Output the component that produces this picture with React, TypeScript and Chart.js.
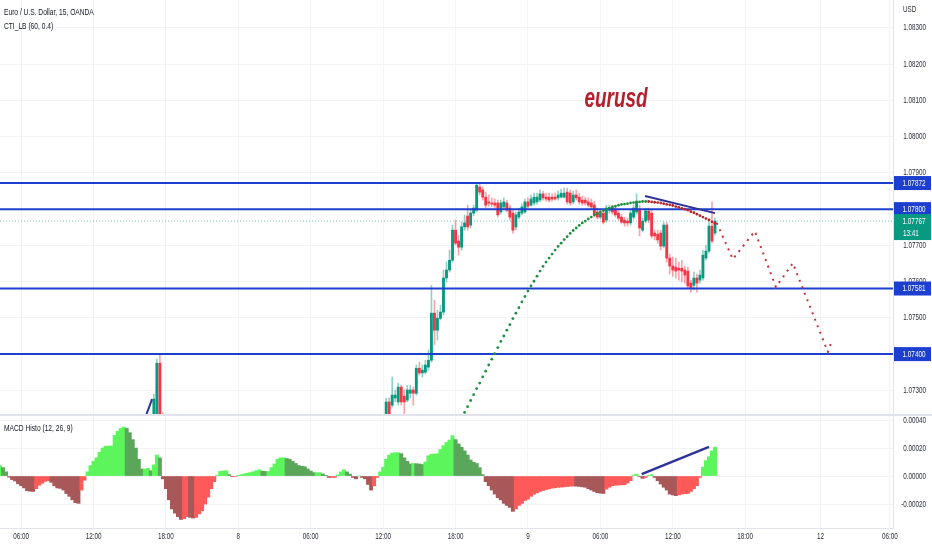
import React, { useEffect, useRef } from 'react';
import { Chart, registerables } from 'chart.js';

Chart.register(...registerables);

const FONT = "'Liberation Sans', Arial, sans-serif";
const SX = 0.7; // horizontal squeeze of the reference's lettering

// ---- axes ----
const X_MIN = -7;
const X_MAX = 289;
const TIME_TICKS = [0, 24, 48, 72, 96, 120, 144, 168, 192, 216, 240, 265, 288];
const TIME_LABELS = ['06:00', '12:00', '18:00', '8', '06:00', '12:00', '18:00', '9', '06:00', '12:00', '18:00', '12', '06:00'];
const PRICE_MIN = 1.07232;
const PRICE_MAX = 1.08377;
const PRICE_TICKS = [1.073, 1.074, 1.075, 1.076, 1.077, 1.078, 1.079, 1.08, 1.081, 1.082, 1.083];
const MACD_MIN = -0.000371;
const MACD_MAX = 0.000436;
const MACD_TICKS = [-0.0002, 0, 0.0002, 0.0004];

// ---- horizontal levels ----
const LEVELS = [1.07872, 1.078, 1.07581, 1.074];
const LAST_PRICE = 1.07767;
const LAST_COUNTDOWN = '13:41';

// ---- candles [open, high, low, close] ----
const EARLY_START = 44;
const EARLY_CANDLES = [
  [1.0718, 1.0729, 1.0716, 1.07276],
  [1.0722, 1.07386, 1.0721, 1.07375],
  [1.07375, 1.07397, 1.0717, 1.0722],
  [1.0723, 1.07238, 1.0719, 1.0721],
];
const CANDLE_START = 121;
const CANDLES = [
  [1.07229, 1.07279, 1.07223, 1.07268],
  [1.07268, 1.07279, 1.07229, 1.07234],
  [1.07259, 1.07337, 1.07254, 1.07287],
  [1.07279, 1.07301, 1.07268, 1.07287],
  [1.07268, 1.0732, 1.07259, 1.07309],
  [1.07309, 1.07314, 1.07259, 1.07268],
  [1.07284, 1.07301, 1.07232, 1.07268],
  [1.07273, 1.07314, 1.07268, 1.07301],
  [1.07292, 1.07314, 1.07279, 1.07301],
  [1.07301, 1.07309, 1.07259, 1.07292],
  [1.07292, 1.0737, 1.07287, 1.07361],
  [1.07361, 1.07378, 1.07342, 1.07348],
  [1.07348, 1.0737, 1.07337, 1.07356],
  [1.0735, 1.07383, 1.07345, 1.0737],
  [1.07364, 1.07411, 1.07356, 1.07383],
  [1.07383, 1.0759, 1.07378, 1.07513],
  [1.07513, 1.07549, 1.07425, 1.07466],
  [1.07466, 1.07521, 1.07439, 1.07499],
  [1.07499, 1.07535, 1.07494, 1.07516],
  [1.07516, 1.07632, 1.07508, 1.0761],
  [1.0761, 1.07654, 1.07599, 1.07632],
  [1.07632, 1.07687, 1.07626, 1.07659],
  [1.07659, 1.07756, 1.07654, 1.07742],
  [1.07742, 1.0777, 1.07701, 1.07706],
  [1.07712, 1.07728, 1.07673, 1.07695],
  [1.07695, 1.07764, 1.07687, 1.07751],
  [1.07751, 1.07784, 1.07742, 1.07762],
  [1.07781, 1.07811, 1.07742, 1.07751],
  [1.07756, 1.07797, 1.07748, 1.07789],
  [1.07789, 1.07811, 1.07781, 1.07803],
  [1.07797, 1.07872, 1.07792, 1.07866],
  [1.07861, 1.07869, 1.07839, 1.07847],
  [1.07853, 1.07861, 1.07825, 1.07833],
  [1.07833, 1.07847, 1.07803, 1.07811],
  [1.0782, 1.07839, 1.07808, 1.07817],
  [1.07817, 1.07831, 1.07806, 1.07814],
  [1.07817, 1.07828, 1.07803, 1.07811],
  [1.07817, 1.07825, 1.07778, 1.07784],
  [1.07792, 1.07825, 1.07786, 1.07817],
  [1.07806, 1.07831, 1.078, 1.0782],
  [1.07817, 1.07825, 1.07792, 1.07797],
  [1.07803, 1.07811, 1.0777, 1.07778],
  [1.07789, 1.07797, 1.07734, 1.07742],
  [1.07751, 1.07792, 1.07742, 1.07784],
  [1.07778, 1.07803, 1.07773, 1.07792],
  [1.07789, 1.07814, 1.07784, 1.07806],
  [1.07792, 1.07828, 1.07789, 1.0782],
  [1.0782, 1.07831, 1.07803, 1.07808],
  [1.07811, 1.07839, 1.07808, 1.07828],
  [1.07817, 1.07844, 1.07811, 1.07833],
  [1.0782, 1.07844, 1.07814, 1.07833],
  [1.07825, 1.07853, 1.0782, 1.07842],
  [1.07842, 1.0785, 1.07825, 1.07831],
  [1.07833, 1.07844, 1.07822, 1.07828],
  [1.07833, 1.07844, 1.0782, 1.07825],
  [1.07833, 1.07842, 1.07822, 1.07828],
  [1.07833, 1.07844, 1.07825, 1.07828],
  [1.07831, 1.0785, 1.07825, 1.07839],
  [1.07833, 1.07855, 1.07831, 1.07844],
  [1.07833, 1.07858, 1.07831, 1.07844],
  [1.07847, 1.07858, 1.07814, 1.0782],
  [1.07844, 1.07853, 1.07811, 1.07817],
  [1.0782, 1.0785, 1.07814, 1.07839],
  [1.07839, 1.07853, 1.07825, 1.07831],
  [1.07833, 1.07844, 1.07814, 1.0782],
  [1.07825, 1.07836, 1.07811, 1.07817],
  [1.07825, 1.07833, 1.07811, 1.07817],
  [1.0782, 1.07831, 1.07806, 1.07811],
  [1.07817, 1.07828, 1.078, 1.07806],
  [1.07811, 1.07822, 1.07778, 1.07784],
  [1.07792, 1.07803, 1.07773, 1.07778],
  [1.07778, 1.07797, 1.07773, 1.07789],
  [1.07789, 1.07797, 1.07759, 1.07764],
  [1.0777, 1.07811, 1.07764, 1.07803],
  [1.07797, 1.07811, 1.07789, 1.07803],
  [1.07803, 1.07811, 1.07786, 1.07792],
  [1.07797, 1.07806, 1.07778, 1.07784],
  [1.07789, 1.07797, 1.0777, 1.07775],
  [1.07778, 1.07786, 1.07759, 1.07764],
  [1.0777, 1.07778, 1.07753, 1.07762],
  [1.07767, 1.07775, 1.07753, 1.07762],
  [1.07762, 1.07797, 1.07756, 1.07789],
  [1.07778, 1.07811, 1.07773, 1.07803],
  [1.07792, 1.07842, 1.07786, 1.0782],
  [1.07797, 1.07811, 1.07726, 1.07748],
  [1.07742, 1.07775, 1.07737, 1.07767],
  [1.07767, 1.07803, 1.07762, 1.07795],
  [1.07795, 1.07803, 1.07762, 1.0777],
  [1.07789, 1.07797, 1.0772, 1.07726],
  [1.07734, 1.07742, 1.07715, 1.07726],
  [1.07731, 1.07742, 1.07706, 1.07715],
  [1.07734, 1.07742, 1.07687, 1.07698],
  [1.07698, 1.07764, 1.07693, 1.07756],
  [1.07756, 1.07764, 1.07654, 1.07665],
  [1.07665, 1.07676, 1.07621, 1.07643],
  [1.07643, 1.07668, 1.07615, 1.07632],
  [1.0764, 1.07665, 1.0761, 1.07629],
  [1.07637, 1.07654, 1.07604, 1.07632],
  [1.07637, 1.07659, 1.07599, 1.07629],
  [1.07632, 1.07643, 1.07596, 1.07618],
  [1.07629, 1.0764, 1.07582, 1.07588],
  [1.07596, 1.07604, 1.07571, 1.07582],
  [1.0759, 1.07626, 1.07577, 1.0761],
  [1.0761, 1.07621, 1.07571, 1.07596],
  [1.07604, 1.07632, 1.07596, 1.07618],
  [1.0761, 1.07687, 1.07604, 1.07673],
  [1.07665, 1.07701, 1.07659, 1.07684],
  [1.07684, 1.07764, 1.07679, 1.07753],
  [1.07753, 1.0782, 1.07706, 1.07712],
  [1.07734, 1.07775, 1.07728, 1.07767],
];

// ---- MACD histogram (units of 0.00001) ----
const MACD_START = -7;
const MACD_HIST = [
  7.4, 6, 3, -0.8, -2.5, -3.5, -5.5,
  -6.9, -8.5, -10.5, -10.8, -11, -9, -6.5, -5.2, -3.8, -3.3,
  -4.5, -7, -8.5, -8.8, -10, -12.5, -14.5, -17, -19, -19.5,
  -10, -3, 3, 7.4, 10.5, 13, 17, 20, 21.2, 21.4,
  21.5, 29, 32, 34, 35, 34, 31, 26, 20, 12,
  5, 5, 5.5, 3.8, 8, 15, 13, -2, -9, -17,
  -23.5, -26.5, -29, -31, -30.5, -29, -29.5, -30, -29.5, -27,
  -24.8, -20, -15, -9, -4, 0.5, 3.3, 3.6, 3.8, 1,
  -0.5, -0.3, 0.5, 1, 1.5, 2, 2.5, 3.1, 3.8, 4.5,
  3.5, 3.3, 3.3, 6, 8.6, 12, 13, 13, 12.5, 12,
  10.5, 9, 7.5, 7, 6.7, 5, 3.5, 2.4, 2.4, 2.4,
  1.5, 0.5, -1, -1, -1, 0.8, 3, 4.5, 3, 1.4,
  -1, -2, 0, -1, -2, -6, -10, -7, -1, 3,
  6.2, 12, 15, 16.4, 16.7, 16.7, 16, 13, 10.5, 8.6,
  9, 8.8, 8.6, 8.2, 10, 14.5, 15.5, 15.7, 16, 19,
  21.7, 24, 25.7, 28.8, 26, 23, 20.5, 18, 15, 11.5,
  9.8, 9, 6, 1, -4, -6.9, -10, -12.9, -15.5, -17,
  -19.5, -21, -22.4, -25.2, -23.5, -21, -19.5, -17.5, -16.5, -14.5,
  -13, -12, -11, -10.3, -9.6, -9.2, -8.6, -8.4, -8, -7.9,
  -7.7, -7.5, -7.2, -7.1, -7.2, -7.4, -7.7, -8, -9, -10,
  -11, -11.9, -12.2, -12.4, -9.3, -8, -6.9, -6.6, -6.4, -6.3,
  -6.2, -5, -3.3, 0.7, 1.4, -0.5, -1.7, -1, 0.5, 1,
  -1, -3.3, -5.7, -8, -10, -12.9, -13.5, -14, -13.5, -12.9,
  -12.6, -12.4, -11, -9, -6.9, -1, 6.2, 11, 13.8, 18, 20.5,
];
const MACD_UNIT = 0.00001;

// ---- CTI_LB dots ----
const CTI_UP_START = 145;
const CTI_UP = [
  1.07207, 1.07223,
  1.07239, 1.07255, 1.07272, 1.07288, 1.07305, 1.0732, 1.07337, 1.07353, 1.0737, 1.07386,
  1.07401, 1.07418, 1.07435, 1.0745, 1.07466, 1.07481, 1.07498, 1.07513, 1.07528, 1.07544,
  1.07559, 1.07574, 1.07588, 1.07601, 1.07615, 1.07629, 1.07642, 1.07654, 1.07665, 1.07676,
  1.07687, 1.07697, 1.07706, 1.07716, 1.07724, 1.07733, 1.07741, 1.07748, 1.07755, 1.07762,
  1.07767, 1.07773, 1.07778, 1.07784, 1.07788, 1.07792, 1.07796, 1.078, 1.07803, 1.07806,
  1.07808, 1.07811, 1.07813, 1.07814, 1.07815, 1.07817, 1.07818, 1.0782, 1.0782, 1.07821,
  1.07821,
];
const CTI_DOWN_START = 208;
const CTI_DOWN = [
  1.07821, 1.0782, 1.07819, 1.07818, 1.07817, 1.07815, 1.07813, 1.07812, 1.0781, 1.07807,
  1.07805, 1.07802, 1.078, 1.07797, 1.07793, 1.0779, 1.07786, 1.07782, 1.07778, 1.07774,
  1.0777, 1.07765, 1.07761,
];

// ---- drawings ----
const PROJ_X = [230.6, 235.9, 243.2, 250.2, 255.8, 267.4, 268.7];
const PROJ_Y = [1.07762, 1.07662, 1.07739, 1.07585, 1.07651, 1.07406, 1.07436];
const TREND_X = [206.8, 230];
const TREND_Y = [1.07836, 1.07789];
const SMALL_TREND_X = [40.5, 43.4];
const SMALL_TREND_Y = [1.0721, 1.07276];
const MACD_TREND_X = [205.7, 228];
const MACD_TREND_Y = [1.4, 20.9];

// ---- colours ----
const UP = '#089981';
const DOWN = '#f23645';
const UP_WICK = 'rgba(8,153,129,0.45)';
const DOWN_WICK = 'rgba(242,54,69,0.45)';
const LEVEL = '#1c3fcf';
const GRID = '#f1f3f7';
const AXIS_TEXT = '#2a2e39';

function squeezedText(
  ctx: CanvasRenderingContext2D,
  s: string,
  x: number,
  y: number,
  align: 'left' | 'center' | 'right',
  font: string,
  color: string,
  sx = SX,
) {
  ctx.save();
  ctx.font = font;
  ctx.fillStyle = color;
  ctx.textAlign = 'left';
  ctx.textBaseline = 'middle';
  const w = ctx.measureText(s).width * sx;
  let x0 = x;
  if (align === 'center') x0 = x - w / 2;
  else if (align === 'right') x0 = x - w;
  ctx.translate(x0, y);
  ctx.scale(sx, 1);
  ctx.fillText(s, 0, 0);
  ctx.restore();
}

const zeroPad = (s: any) => {
  s.paddingLeft = 0;
  s.paddingRight = 0;
  s.paddingTop = 0;
  s.paddingBottom = 0;
};

export default function App() {
  const ref = useRef<HTMLCanvasElement>(null);

  useEffect(() => {
    document.body.style.margin = '0';
    const canvas = ref.current;
    if (!canvas) return;

    const allCandles = [
      ...EARLY_CANDLES.map((c, k) => ({ i: EARLY_START + k, c })),
      ...CANDLES.map((c, k) => ({ i: CANDLE_START + k, c })),
    ];
    const wickData = allCandles.map(({ i, c }) => ({ x: i, y: [c[2], c[1]] }));
    const bodyData = allCandles.map(({ i, c }) => ({ x: i, y: [Math.min(c[0], c[3]), Math.max(c[0], c[3])] }));
    const isUp = allCandles.map(({ c }) => c[3] >= c[0]);

    const macdData = MACD_HIST.map((v, k) => ({ x: MACD_START + k, y: v * MACD_UNIT }));
    const macdColors = MACD_HIST.map((v, k) => {
      const prev = k > 0 ? MACD_HIST[k - 1] : v;
      const rising = v >= prev;
      if (v >= 0) return rising ? '#5cf55c' : '#5aa65a';
      return rising ? '#ff5a5a' : '#a85858';
    });

    const seg = (xs: number[], ys: number[], mul = 1) => xs.map((x, k) => ({ x, y: ys[k] * mul }));

    const paneClip = {
      id: 'paneClip',
      beforeDatasetDraw(chart: any, args: any) {
        const ys = chart.scales[args.meta.yAxisID];
        const a = chart.chartArea;
        const ctx = chart.ctx;
        ctx.save();
        ctx.beginPath();
        ctx.rect(a.left, ys.top, a.right - a.left, ys.bottom - ys.top);
        ctx.clip();
      },
      afterDatasetDraw(chart: any) {
        chart.ctx.restore();
      },
    };

    const overlay = {
      id: 'overlay',
      afterDraw(chart: any) {
        const ctx = chart.ctx;
        const xS = chart.scales.x;
        const yS = chart.scales.y;
        const y2S = chart.scales.y2;
        const a = chart.chartArea;
        const axisFont = `9px ${FONT}`;

        // pane separator
        ctx.save();
        ctx.fillStyle = '#e0e3eb';
        ctx.fillRect(0, yS.bottom - 1, 932, 2);
        ctx.restore();

        // axis labels
        PRICE_TICKS.forEach((v) => {
          squeezedText(ctx, v.toFixed(5), 926, yS.getPixelForValue(v), 'right', axisFont, AXIS_TEXT);
        });
        MACD_TICKS.forEach((v) => {
          squeezedText(ctx, v.toFixed(5), 926, y2S.getPixelForValue(v), 'right', axisFont, AXIS_TEXT);
        });
        TIME_TICKS.forEach((v, k) => {
          squeezedText(ctx, TIME_LABELS[k], xS.getPixelForValue(v), a.bottom + 9, 'center', axisFont, AXIS_TEXT);
        });
        squeezedText(ctx, 'USD', 903, 10, 'left', axisFont, AXIS_TEXT);

        // level labels
        LEVELS.forEach((lv) => {
          const py = yS.getPixelForValue(lv);
          ctx.fillStyle = LEVEL;
          ctx.fillRect(a.right + 1, py - 7, 37, 14);
          squeezedText(ctx, lv.toFixed(5), a.right + 21, py + 0.5, 'center', axisFont, '#ffffff');
        });
        // last price label
        const lp = yS.getPixelForValue(LAST_PRICE);
        ctx.fillStyle = UP;
        ctx.fillRect(a.right + 1, lp - 7, 37, 26);
        squeezedText(ctx, LAST_PRICE.toFixed(5), a.right + 21, lp + 0.5, 'center', axisFont, '#ffffff');
        squeezedText(ctx, LAST_COUNTDOWN, a.right + 10, lp + 12.5, 'left', axisFont, '#ffffff');

        // legends
        const legFont = `9.5px ${FONT}`;
        squeezedText(ctx, 'Euro / U.S. Dollar, 15, OANDA', 4, 12, 'left', legFont, '#131722');
        squeezedText(ctx, 'CTI_LB (60, 0.4)', 4, 26, 'left', legFont, '#131722');
        squeezedText(ctx, 'MACD Histo (12, 26, 9)', 4, y2S.top + 13, 'left', legFont, '#131722');

        // annotation text
        squeezedText(ctx, 'eurusd', 616, 100, 'center', `italic bold 27px ${FONT}`, '#b3202e');
      },
    };

    const chart = new Chart(canvas, {
      type: 'line',
      data: {
        datasets: [
          {
            type: 'bar',
            label: 'macd',
            data: macdData as any,
            yAxisID: 'y2',
            backgroundColor: macdColors,
            barThickness: 3.3,
            grouped: false,
            borderWidth: 0,
            order: 20,
          } as any,
          {
            type: 'bar',
            label: 'wicks',
            data: wickData as any,
            yAxisID: 'y',
            backgroundColor: isUp.map((u) => (u ? UP_WICK : DOWN_WICK)),
            barThickness: 1,
            grouped: false,
            borderWidth: 0,
            order: 12,
          } as any,
          {
            type: 'bar',
            label: 'bodies',
            data: bodyData as any,
            yAxisID: 'y',
            backgroundColor: isUp.map((u) => (u ? UP : DOWN)),
            barThickness: 2.2,
            minBarLength: 1,
            grouped: false,
            borderWidth: 0,
            order: 11,
          } as any,
          {
            label: 'last',
            data: [{ x: X_MIN, y: LAST_PRICE }, { x: X_MAX, y: LAST_PRICE }],
            yAxisID: 'y',
            borderColor: 'rgba(8,153,129,0.55)',
            borderWidth: 1,
            borderDash: [1, 2],
            pointRadius: 0,
            order: 10,
          },
          ...LEVELS.map((lv) => ({
            label: 'level ' + lv,
            data: [{ x: X_MIN, y: lv }, { x: X_MAX, y: lv }],
            yAxisID: 'y',
            borderColor: LEVEL,
            borderWidth: 2,
            pointRadius: 0,
            order: 8,
          })),
          {
            label: 'cti up',
            data: CTI_UP.map((v, k) => ({ x: CTI_UP_START + k, y: v })),
            yAxisID: 'y',
            showLine: false,
            pointRadius: 1.4,
            pointBorderWidth: 0,
            pointBackgroundColor: '#1f8f3f',
            order: 6,
          },
          {
            label: 'cti down',
            data: CTI_DOWN.map((v, k) => ({ x: CTI_DOWN_START + k, y: v })),
            yAxisID: 'y',
            showLine: false,
            pointRadius: 1.4,
            pointBorderWidth: 0,
            pointBackgroundColor: '#b3262f',
            order: 6,
          },
          {
            label: 'projection',
            data: seg(PROJ_X, PROJ_Y),
            yAxisID: 'y',
            borderColor: '#c8323c',
            borderWidth: 2,
            borderDash: [2, 5],
            pointRadius: 0,
            order: 5,
          },
          {
            label: 'trend',
            data: seg(TREND_X, TREND_Y),
            yAxisID: 'y',
            borderColor: '#2f3399',
            borderWidth: 2,
            pointRadius: 0,
            order: 4,
          },
          {
            label: 'trend small',
            data: seg(SMALL_TREND_X, SMALL_TREND_Y),
            yAxisID: 'y',
            borderColor: '#2f3399',
            borderWidth: 2,
            pointRadius: 0,
            order: 4,
          },
          {
            label: 'macd trend',
            data: seg(MACD_TREND_X, MACD_TREND_Y, MACD_UNIT),
            yAxisID: 'y2',
            borderColor: '#2f3399',
            borderWidth: 2.5,
            pointRadius: 0,
            order: 4,
          },
        ] as any,
      },
      options: {
        responsive: false,
        animation: false,
        events: [],
        layout: { padding: 0, autoPadding: false },
        plugins: { legend: { display: false }, tooltip: { enabled: false } },
        scales: {
          x: {
            type: 'linear',
            min: X_MIN,
            max: X_MAX,
            offset: false,
            afterBuildTicks: (s: any) => {
              s.ticks = TIME_TICKS.map((v) => ({ value: v }));
            },
            afterFit: (s: any) => {
              s.height = 22;
              zeroPad(s);
            },
            grid: { color: GRID, drawTicks: false, offset: false },
            border: { display: true, color: '#e0e3eb' },
            ticks: { display: false, autoSkip: false, maxRotation: 0 },
          },
          y: {
            type: 'linear',
            position: 'right',
            stack: 'panes',
            stackWeight: 415,
            min: PRICE_MIN,
            max: PRICE_MAX,
            afterBuildTicks: (s: any) => {
              s.ticks = PRICE_TICKS.map((v) => ({ value: v }));
            },
            afterFit: (s: any) => {
              s.width = 39;
              zeroPad(s);
            },
            grid: { color: GRID, drawTicks: false },
            border: { display: true, color: '#e0e3eb' },
            ticks: { display: false },
          },
          y2: {
            type: 'linear',
            position: 'right',
            stack: 'panes',
            stackWeight: 113,
            min: MACD_MIN,
            max: MACD_MAX,
            afterBuildTicks: (s: any) => {
              s.ticks = MACD_TICKS.map((v) => ({ value: v }));
            },
            afterFit: (s: any) => {
              s.width = 39;
              zeroPad(s);
            },
            grid: { color: GRID, drawTicks: false },
            border: { display: true, color: '#e0e3eb' },
            ticks: { display: false },
          },
        },
      } as any,
      plugins: [paneClip, overlay],
    });

    return () => chart.destroy();
  }, []);

  return <canvas ref={ref} width={932} height={550} style={{ display: 'block' }} />;
}
